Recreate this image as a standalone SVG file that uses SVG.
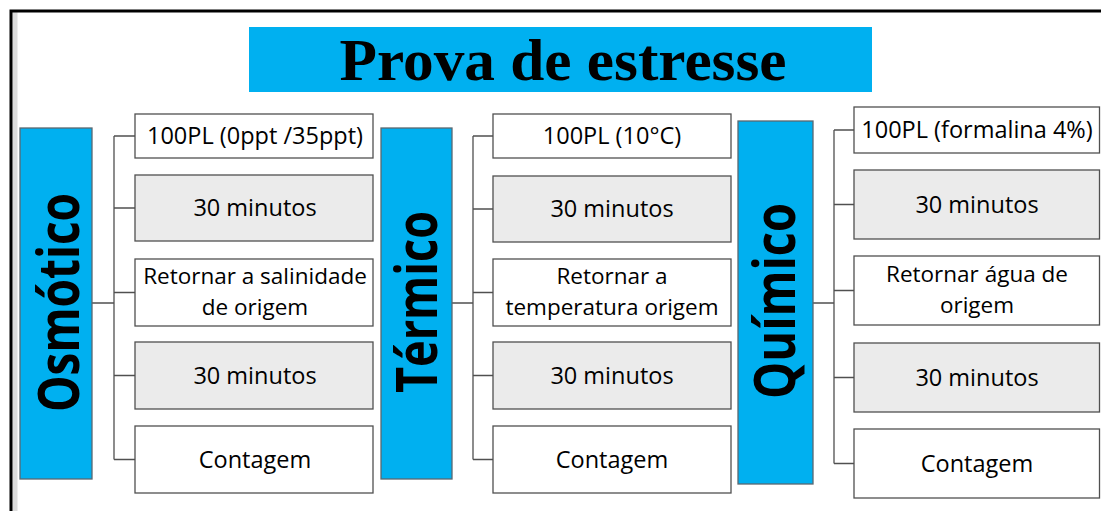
<svg xmlns="http://www.w3.org/2000/svg" width="1101" height="511" viewBox="0 0 1101 511">
<style>
.frame{fill:none;stroke:#000;stroke-width:3}
.title{fill:#00B0F0}
.ttl{font-family:"Liberation Serif","Times New Roman",serif;font-weight:bold;font-size:60px;fill:#000}
.cat{fill:#00B0F0;stroke:#5a6870;stroke-width:1.3}
.catt{font-family:"Open Sans","Noto Sans",sans-serif;font-weight:bold;font-size:58px;fill:#000}
.bw{fill:#fff;stroke:#505050;stroke-width:1.3}
.bg{fill:#EBEBEB;stroke:#505050;stroke-width:1.3}
.lbl{font-family:"Open Sans","Noto Sans",sans-serif;font-size:23.5px;fill:#000;text-anchor:middle}
.lbl2{font-size:22.5px}
.con{fill:none;stroke:#505050;stroke-width:1.3}
</style>
<rect width="1101" height="511" fill="#fff"/>
<rect x="12.5" y="12" width="5" height="499" fill="#dcdcdc"/>
<path class="frame" d="M11,511 V11 H1101"/>
<g id="title">
<rect class="title" x="249" y="27" width="623" height="65"/>
<text class="ttl" x="563" y="80" text-anchor="middle" textLength="447" lengthAdjust="spacingAndGlyphs">Prova de estresse</text>
</g>
<g id="connectors">
<path class="con" d="M92,303 H114 M114,136 V459.5 M114,136 H135 M114,208 H135 M114,292.5 H135 M114,375.5 H135 M114,459.5 H135"/>
<path class="con" d="M452,303 H473 M473,136 V459.5 M473,136 H493 M473,209 H493 M473,292.5 H493 M473,375.5 H493 M473,459.5 H493"/>
<path class="con" d="M813,303 H834 M834,130 V463.5 M834,130 H854 M834,204.5 H854 M834,290.5 H854 M834,377.5 H854 M834,463.5 H854"/>
</g>
<g id="osmotico">
<rect class="cat" x="20" y="128" width="72" height="351"/>
<text class="catt" transform="translate(79,302.5) rotate(-90)" text-anchor="middle" textLength="219" lengthAdjust="spacingAndGlyphs">Osmótico</text>
</g>
<g id="o1"><rect class="bw" x="135" y="114" width="238" height="44"/><text class="lbl" x="255" y="144">100PL (0ppt /35ppt)</text></g>
<g id="o2"><rect class="bg" x="135" y="175" width="238" height="66"/><text class="lbl" x="255" y="216">30 minutos</text></g>
<g id="o3"><rect class="bw" x="135" y="259" width="238" height="67"/><text class="lbl lbl2"><tspan x="255" y="284">Retornar a salinidade</tspan><tspan x="255" y="314.8">de origem</tspan></text></g>
<g id="o4"><rect class="bg" x="135" y="342" width="238" height="67"/><text class="lbl" x="255" y="383.5">30 minutos</text></g>
<g id="o5"><rect class="bw" x="135" y="426" width="238" height="67"/><text class="lbl" x="255" y="467.5">Contagem</text></g>
<g id="termico">
<rect class="cat" x="381" y="128" width="71" height="351"/>
<text class="catt" transform="translate(437,302) rotate(-90)" text-anchor="middle" textLength="182" lengthAdjust="spacingAndGlyphs">Térmico</text>
</g>
<g id="t1"><rect class="bw" x="493" y="114" width="238" height="44"/><text class="lbl" x="612" y="144">100PL (10°C)</text></g>
<g id="t2"><rect class="bg" x="493" y="176" width="238" height="66"/><text class="lbl" x="612" y="217">30 minutos</text></g>
<g id="t3"><rect class="bw" x="493" y="259" width="238" height="67"/><text class="lbl lbl2"><tspan x="612" y="284">Retornar a</tspan><tspan x="612" y="314.8">temperatura origem</tspan></text></g>
<g id="t4"><rect class="bg" x="493" y="342" width="238" height="67"/><text class="lbl" x="612" y="383.5">30 minutos</text></g>
<g id="t5"><rect class="bw" x="493" y="426" width="238" height="67"/><text class="lbl" x="612" y="467.5">Contagem</text></g>
<g id="quimico">
<rect class="cat" x="738" y="121" width="75" height="363"/>
<text class="catt" transform="translate(795,301) rotate(-90)" text-anchor="middle" textLength="196" lengthAdjust="spacingAndGlyphs">Químico</text>
</g>
<g id="q1"><rect class="bw" x="854" y="107" width="245.5" height="46"/><text class="lbl" x="977" y="138">100PL (formalina 4%)</text></g>
<g id="q2"><rect class="bg" x="854" y="170" width="245.5" height="69"/><text class="lbl" x="977" y="212.5">30 minutos</text></g>
<g id="q3"><rect class="bw" x="854" y="256" width="245.5" height="69"/><text class="lbl lbl2"><tspan x="977" y="282">Retornar água de</tspan><tspan x="977" y="312.8">origem</tspan></text></g>
<g id="q4"><rect class="bg" x="854" y="343" width="245.5" height="69"/><text class="lbl" x="977" y="385.5">30 minutos</text></g>
<g id="q5"><rect class="bw" x="854" y="429" width="245.5" height="69"/><text class="lbl" x="977" y="471.5">Contagem</text></g>
</svg>
